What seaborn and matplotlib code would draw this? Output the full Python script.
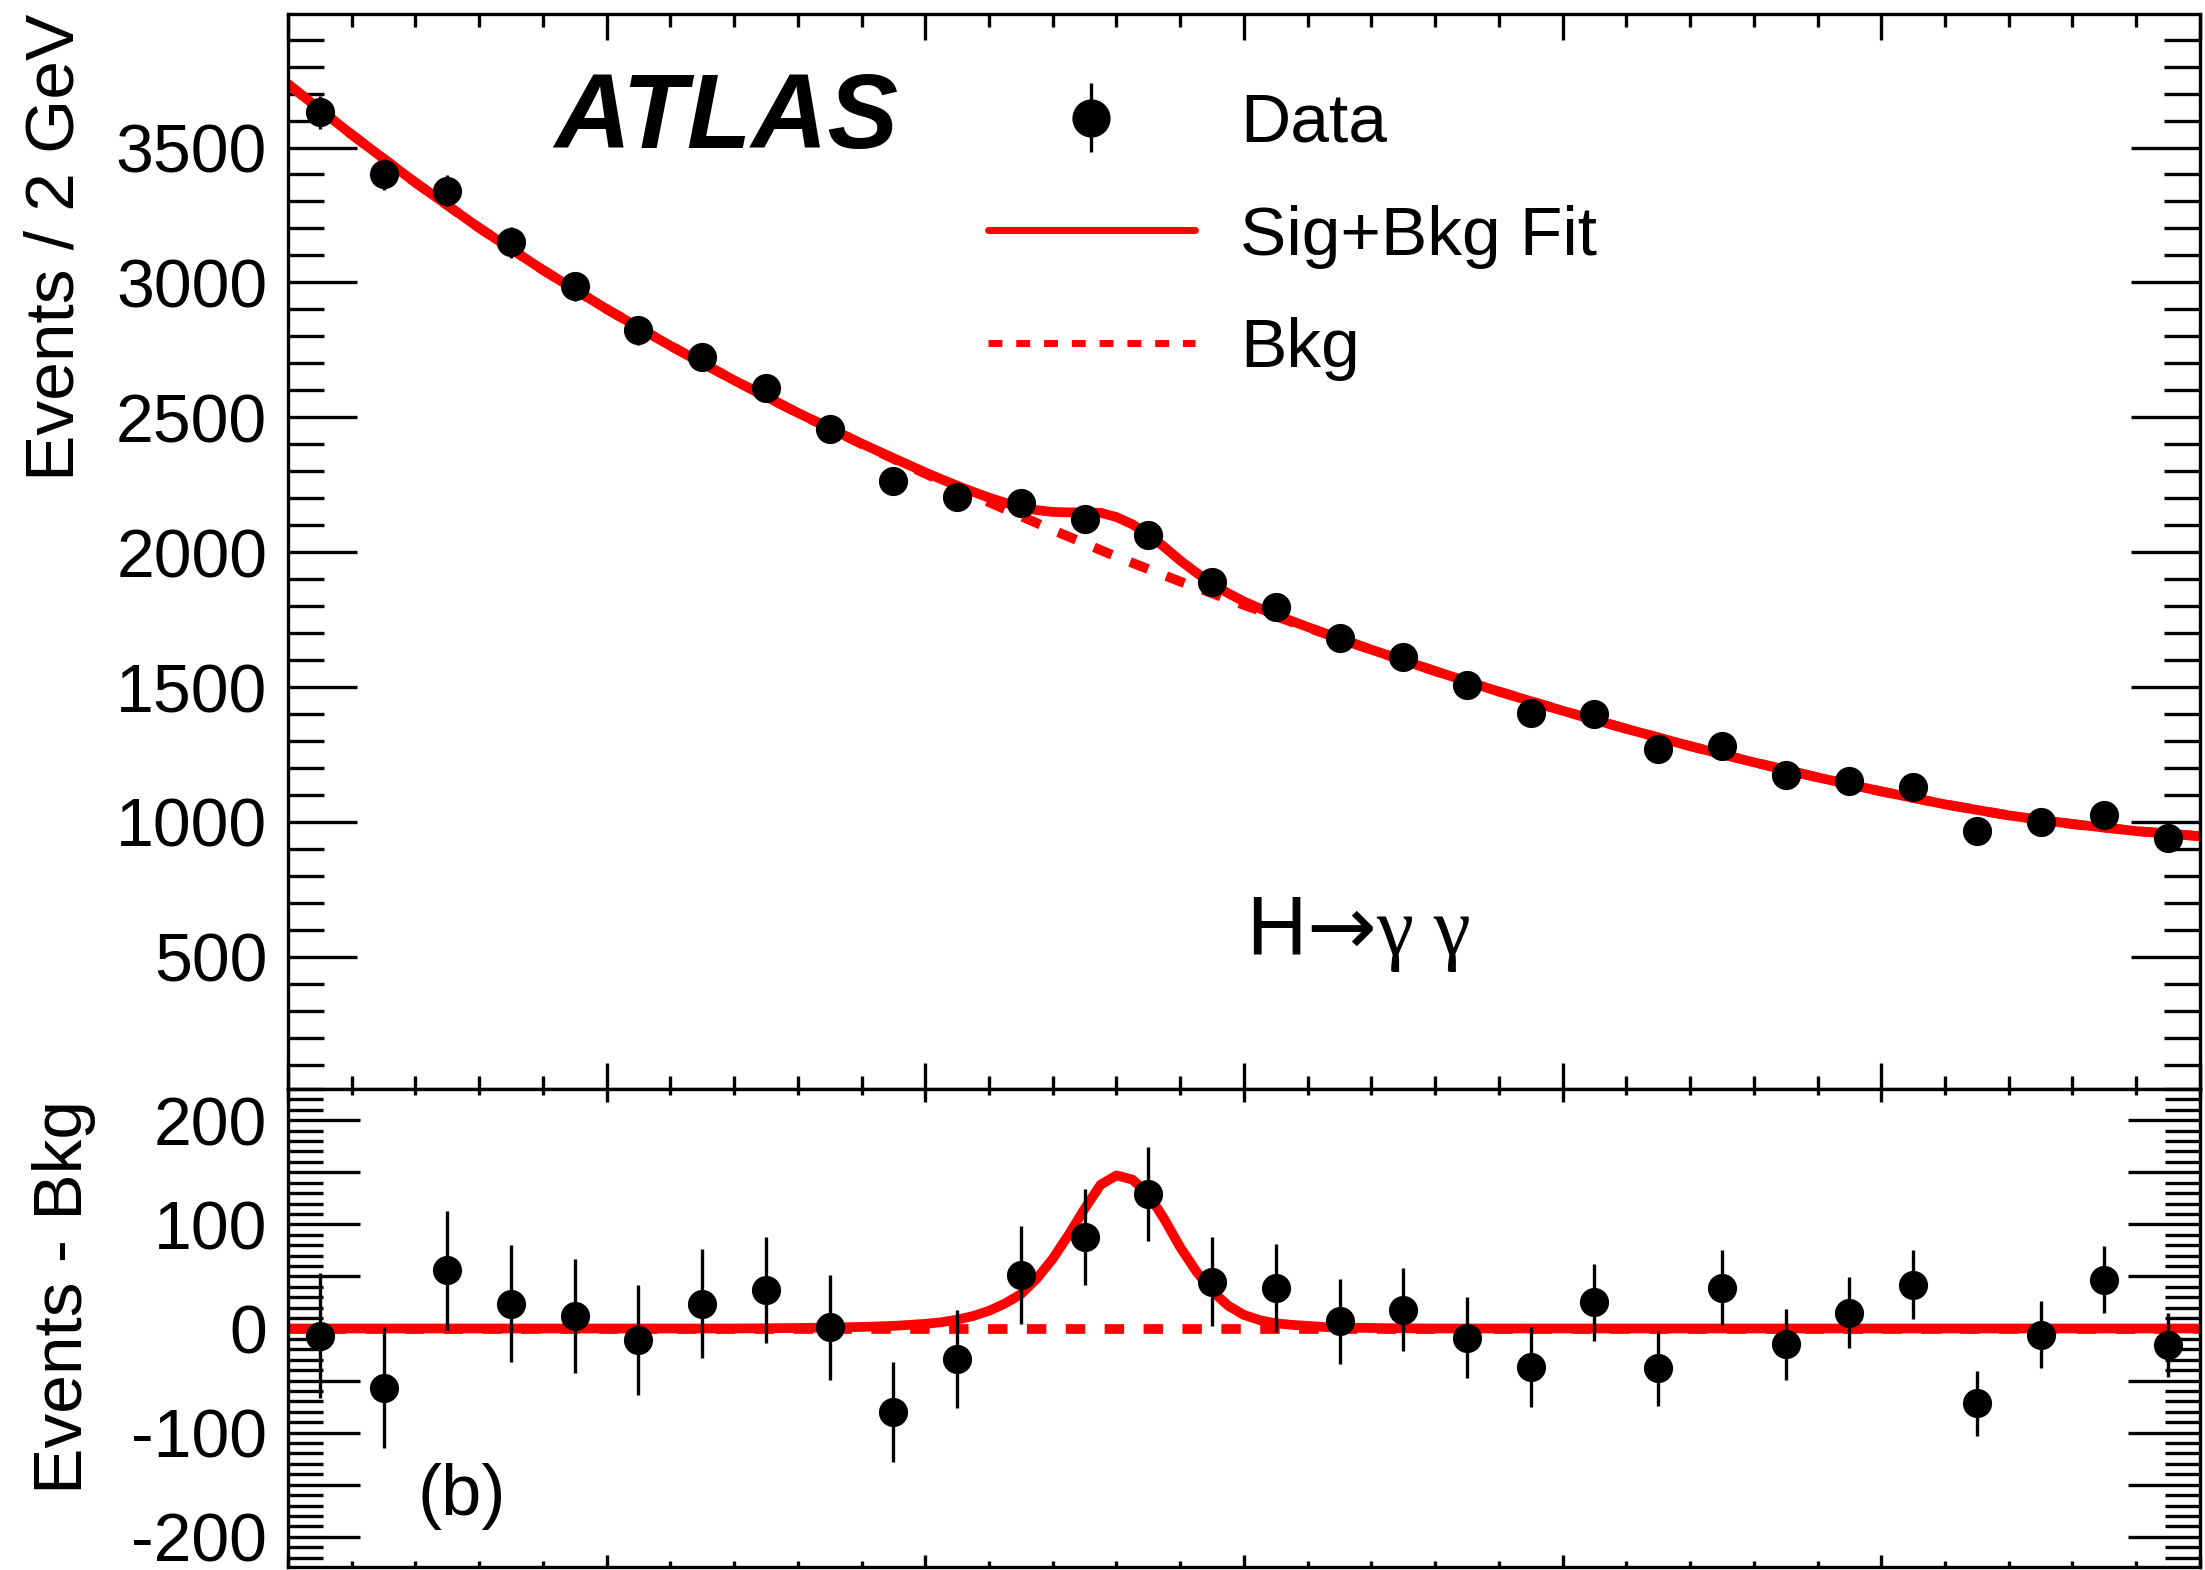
import numpy as np
import pandas as pd
import matplotlib
matplotlib.use("Agg")
import matplotlib.pyplot as plt
from matplotlib.lines import Line2D
from matplotlib.ticker import MultipleLocator, FuncFormatter
import seaborn as sns

# diphoton mass bin centres (GeV), 2 GeV bins
mass = np.arange(101, 160, 2)
events = [3630, 3400, 3340, 3148, 2985, 2822, 2722, 2608, 2455, 2265,
          2205, 2182, 2121, 2064, 1888, 1798, 1680, 1613, 1509, 1404,
          1400, 1271, 1282, 1173, 1152, 1131, 968, 1001, 1026, 941]
errors = [60, 58, 57, 56, 55, 53, 52, 51, 50, 48,
          47, 47, 46, 45, 43, 42, 41, 40, 39, 38,
          37, 36, 36, 34, 34, 33, 31, 32, 32, 31]
# data minus background fit
residual = [-7, -57, 56, 24, 12, -11, 24, 37, 1, -80,
            -29, 51, 88, 129, 45, 39, 7, 18, -9, -37,
            25, -38, 39, -15, 15, 42, -72, -6, 47, -16]

# background fit
bkg_mass = np.arange(100, 161, 2)
bkg_fit = [3735, 3548, 3370, 3202, 3046, 2901, 2765, 2637, 2516, 2401,
           2291, 2185, 2082, 1983, 1891, 1804, 1720, 1638, 1559, 1483,
           1412, 1345, 1281, 1221, 1165, 1113, 1065, 1024, 992, 966, 947]

# signal component of the fit
sig_mass = np.arange(116, 136.01, 0.5)
sig_fit = [0.5, 0.7, 1.0, 1.2, 1.5, 2.0, 2.5, 3.5, 4.5, 6,
           8.5, 12, 17, 24, 33, 48, 67, 90, 115, 138,
           147, 143, 129, 105, 78, 55, 36, 22, 13, 8,
           5, 3.5, 2.5, 1.5, 1, 0.7, 0.5, 0.3, 0.2, 0.1, 0]

# combine the two fit pieces on one grid
grid = np.union1d(bkg_mass, sig_mass)
sig_grid = np.interp(grid, sig_mass, sig_fit, left=0, right=0)
fit = pd.DataFrame({"mass": grid,
                    "total": np.interp(grid, bkg_mass, bkg_fit) + sig_grid,
                    "signal": sig_grid,
                    "zero": np.zeros_like(grid)})
bkg = pd.DataFrame({"mass": bkg_mass, "bkg": bkg_fit})

sns.set_theme(style="ticks")
plt.rcParams["font.family"] = ["Liberation Sans", "DejaVu Sans"]
plt.rcParams["axes.unicode_minus"] = False
plt.rcParams["axes.linewidth"] = 2.4
for k in ["text.color", "axes.labelcolor", "xtick.color", "ytick.color", "axes.edgecolor"]:
    plt.rcParams[k] = "black"

fig = plt.figure(figsize=(22.05, 15.70), dpi=100)
ax = fig.add_axes([0.1306, 0.3064, 0.8671, 0.6847])
ax2 = fig.add_axes([0.1306, 0.0019, 0.8671, 0.3045], sharex=ax)

red = "#ff0000"
dash = (0, (2.0, 2.0))
lw = 7.0

# top panel
sns.lineplot(data=bkg, x="mass", y="bkg", color=red, linewidth=lw,
             linestyle=dash, ax=ax, zorder=2)
sns.lineplot(data=fit, x="mass", y="total", color=red, linewidth=lw, ax=ax, zorder=2)
eb = ax.errorbar(mass, events, yerr=errors, fmt="o", color="black", ms=21,
                 mew=0, elinewidth=2.4, capsize=0, zorder=3)

# bottom panel
sns.lineplot(data=fit, x="mass", y="zero", color=red, linewidth=lw,
             linestyle=dash, ax=ax2, zorder=2)
sns.lineplot(data=fit, x="mass", y="signal", color=red, linewidth=lw, ax=ax2, zorder=2)
ax2.errorbar(mass, residual, yerr=errors, fmt="o", color="black", ms=21,
             mew=0, elinewidth=2.4, capsize=0, zorder=3)
for line in ax.lines + ax2.lines:
    if line.get_color() == red:
        line.set_linewidth(lw)
        line.set_solid_joinstyle("round")

ax.set_xlim(100, 160)
ax.set_ylim(10, 3995)
ax2.set_ylim(-229, 230)

for a, ymaj, ymin, ylen, xlen in [(ax, 500, 100, (50, 26), (19, 9.5)),
                                  (ax2, 50, 10, (52, 25.5), (9, 4.3))]:
    a.xaxis.set_major_locator(MultipleLocator(10))
    a.xaxis.set_minor_locator(MultipleLocator(2))
    a.yaxis.set_major_locator(MultipleLocator(ymaj))
    a.yaxis.set_minor_locator(MultipleLocator(ymin))
    a.tick_params(which="both", direction="in", top=True, right=True,
                  width=2.4, color="black")
    a.tick_params(axis="y", which="major", length=ylen[0], pad=15, labelsize=49)
    a.tick_params(axis="y", which="minor", length=ylen[1])
    a.tick_params(axis="x", which="major", length=xlen[0])
    a.tick_params(axis="x", which="minor", length=xlen[1])
    a.tick_params(axis="x", labelbottom=False)
    a.set_xlabel("")
    for s in a.spines.values():
        s.set_visible(True)
        s.set_linewidth(2.4)
        s.set_color("black")

ax2.yaxis.set_major_formatter(FuncFormatter(lambda v, p: f"{int(round(v))}" if round(v) % 100 == 0 else ""))

ax.set_ylabel("Events / 2 GeV", fontsize=50)
ax.yaxis.label.set(ha="right", va="baseline", rotation_mode="anchor")
ax.yaxis.set_label_coords(-0.1124, 1.0)
ax2.set_ylabel("Events - Bkg", fontsize=50)
ax2.yaxis.label.set(ha="right", va="baseline", rotation_mode="anchor")
ax2.yaxis.set_label_coords(-0.1077, 0.977)

ax.text(0.139, 0.875, "ATLAS", transform=ax.transAxes, fontsize=76,
        fontweight="bold", fontstyle="italic", va="baseline")
t_h = ax.text(0.501, 0.1247, "H", transform=ax.transAxes, fontsize=60, va="baseline")
t_arrow = ax.annotate("→", xy=(1, 0), xycoords=t_h, va="bottom", fontsize=60,
                      family=["DejaVu Sans"])
ax.annotate("γ γ", xy=(1, 0), xycoords=t_arrow, va="bottom", fontsize=60,
            family=["Liberation Serif", "DejaVu Serif"])
ax2.text(0.0675, 0.109, "(b)", transform=ax2.transAxes, fontsize=52, va="baseline")

h_fit = Line2D([], [], color=red, lw=5.0)
h_bkg = Line2D([], [], color=red, lw=5.0, linestyle=(0, (2.0, 2.0)))
ax.legend([eb, h_fit, h_bkg], ["Data", "Sig+Bkg Fit", "Bkg"],
          loc="upper left", bbox_to_anchor=(988 / 2205, 1 - 92 / 1570),
          bbox_transform=fig.transFigure, frameon=False, fontsize=50,
          handlelength=2.98, handletextpad=0.65, labelspacing=0.70,
          borderpad=0, borderaxespad=0, markerscale=1.31)

fig.savefig("out.png", dpi=100, facecolor="white")
